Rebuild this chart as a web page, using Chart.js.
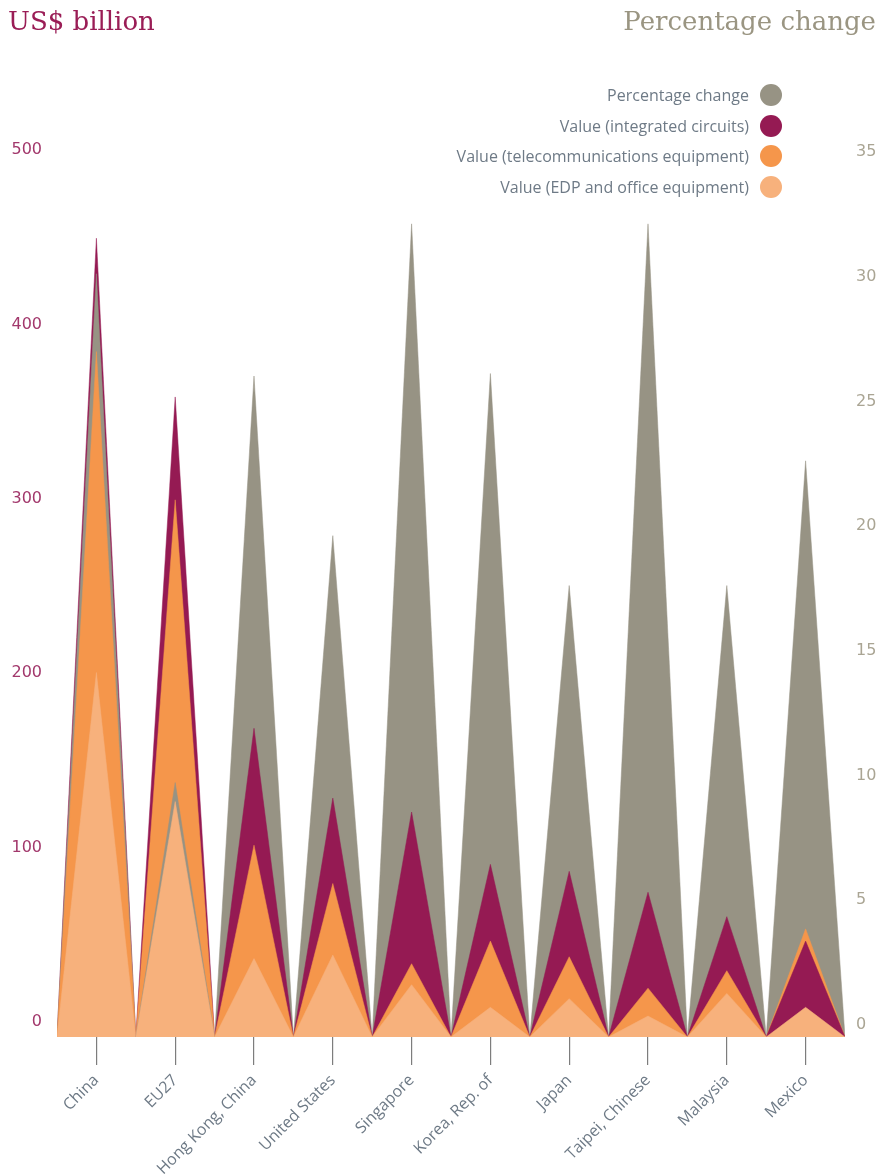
<!DOCTYPE html>
<html>
<head>
<meta charset="utf-8">
<script src="https://cdn.jsdelivr.net/npm/chart.js@4.4.1/dist/chart.umd.min.js"></script>
<style>
  html, body { margin: 0; padding: 0; background: #fff; }
  #wrap { position: relative; width: 878px; height: 1176px; }
  #chart { position: absolute; left: 0; top: 0; }
  .title { position: absolute; top: 6px; font-family: "DejaVu Serif", serif; font-size: 26px; }
  #t-left { left: 8px; color: #9a1d56; }
  #t-right { right: 2px; color: #9a9582; }
  #legend { position: absolute; right: 96px; top: 83px; font-family: "Open Sans", sans-serif; font-size: 16px; color: #6e7a86; }
  #legend div { height: 30.5px; line-height: 24px; text-align: right; white-space: nowrap; }
  #legend span.dot { display: inline-block; width: 22px; height: 22px; border-radius: 50%; vertical-align: middle; margin-left: 11px; margin-top: -3px; }
</style>
</head>
<body>
<div id="wrap">
  <canvas id="chart" width="878" height="1176"></canvas>
  <div class="title" id="t-left">US$ billion</div>
  <div class="title" id="t-right">Percentage change</div>
  <div id="legend"></div>
</div>
<script>
const CATEGORIES = ['China', 'EU27', 'Hong Kong, China', 'United States', 'Singapore',
  'Korea, Rep. of', 'Japan', 'Taipei, Chinese', 'Malaysia', 'Mexico'];

// percentage change (right axis)
const PCT_CHANGE = [30.6, 10.2, 26.5, 20.1, 32.6, 26.6, 18.1, 32.6, 18.1, 23.1];
// values, US$ billion (left axis)
const VAL_IC = [458, 367, 177, 137, 129, 99, 95, 83, 69, 55];
const VAL_TELECOM = [393, 308, 110, 88, 42, 55, 46, 28, 38, 62];
const VAL_EDP = [209, 135, 45, 47, 30, 17, 22, 12, 25, 17];

const LEFT_TICKS = [0, 100, 200, 300, 400, 500];
const RIGHT_TICKS = [0, 5, 10, 15, 20, 25, 30, 35];
const LEFT_MAX = 501.7;
const RIGHT_MAX = 35.08;

const SERIES = [
  { label: 'Percentage change', data: PCT_CHANGE, color: '#979384', axis: 'y1', max: RIGHT_MAX },
  { label: 'Value (integrated circuits)', data: VAL_IC, color: '#951a53', axis: 'y', max: LEFT_MAX },
  { label: 'Value (telecommunications equipment)', data: VAL_TELECOM, color: '#f5964b', axis: 'y', max: LEFT_MAX },
  { label: 'Value (EDP and office equipment)', data: VAL_EDP, color: '#f7b17c', axis: 'y', max: LEFT_MAX },
];

// legend
document.getElementById('legend').innerHTML = SERIES.map(s =>
  `<div>${s.label}<span class="dot" style="background:${s.color}"></span></div>`).join('');

// one triangle per category and series; bigger spikes are drawn behind smaller ones
const datasets = [];
CATEGORIES.forEach((cat, i) => {
  SERIES.forEach(s => {
    const v = s.data[i];
    datasets.push({
      label: s.label + ' ' + cat,
      data: [{ x: i, y: 0 }, { x: i + 0.5, y: v }, { x: i + 1, y: 0 }],
      yAxisID: s.axis,
      backgroundColor: s.color,
      borderColor: s.color,
      borderWidth: 0.5,
      fill: 'origin',
      pointRadius: 0,
      tension: 0,
      order: v / s.max,
    });
  });
});

new Chart(document.getElementById('chart').getContext('2d'), {
  type: 'line',
  data: { datasets },
  options: {
    responsive: false,
    animation: false,
    devicePixelRatio: 1,
    layout: { padding: { top: 162, left: 0, right: 0, bottom: 0 } },
    plugins: { legend: { display: false }, tooltip: { enabled: false } },
    scales: {
      x: {
        type: 'linear',
        min: 0,
        max: CATEGORIES.length,
        afterBuildTicks(axis) {
          axis.ticks = CATEGORIES.map((c, i) => ({ value: i + 0.5 }));
        },
        afterFit(axis) { axis.height = 139; },
        ticks: {
          autoSkip: false,
          minRotation: 45,
          maxRotation: 45,
          padding: 6,
          color: '#6e7a86',
          font: { family: 'Open Sans', size: 16 },
          callback: (v, idx) => CATEGORIES[idx],
        },
        grid: { drawOnChartArea: false, drawTicks: true, tickLength: 28, color: '#7d7d7d', lineWidth: 1.2 },
        border: { display: false },
      },
      y: {
        position: 'left',
        min: 0,
        max: LEFT_MAX,
        afterBuildTicks(axis) { axis.ticks = LEFT_TICKS.map(v => ({ value: v })); },
        afterFit(axis) { axis.width = 57; },
        ticks: {
          padding: 15,
          labelOffset: -15,
          color: '#a2386c',
          font: { family: 'DejaVu Sans', size: 16 },
        },
        grid: { display: false, drawTicks: false },
        border: { display: false },
      },
      y1: {
        position: 'right',
        min: 0,
        max: RIGHT_MAX,
        afterBuildTicks(axis) { axis.ticks = RIGHT_TICKS.map(v => ({ value: v })); },
        afterFit(axis) { axis.width = 33; },
        ticks: {
          padding: 11,
          labelOffset: -12,
          color: '#aaa594',
          font: { family: 'DejaVu Sans', size: 16 },
        },
        grid: { display: false, drawTicks: false },
        border: { display: false },
      },
    },
  },
});
</script>
</body>
</html>
